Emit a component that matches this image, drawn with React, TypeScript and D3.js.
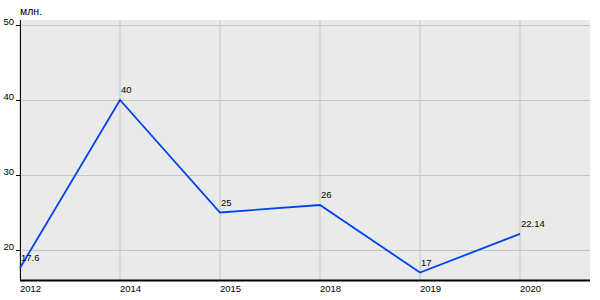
import React from "react";
import * as d3 from "d3";

const categories = ["2012", "2014", "2015", "2018", "2019", "2020"];
const values = [17.6, 40, 25, 26, 17, 22.14];
const valueLabels = ["17.6", "40", "25", "26", "17", "22.14"];
const yTicks = [20, 30, 40, 50];
const unitLabel = "млн.";

export default function App() {
  const W = 600, H = 300;
  const left = 20, right = 590, top = 20, bottom = 280;
  const x = d3.scalePoint<string>().domain(categories).range([20, 520]);
  const y = d3.scaleLinear().domain([16, 50]).range([bottom, 25]);
  const line = d3
    .line<number>()
    .x((_, i) => x(categories[i]) as number)
    .y((d) => y(d));
  const font = "Liberation Sans, Arial, sans-serif";
  return (
    <svg
      width={W}
      height={H}
      style={{ position: "absolute", left: 0, top: 0 }}
      fontFamily={font}
      fontSize={9.5}
    >
      <rect x={0} y={0} width={W} height={H} fill="#fff" />
      <rect x={left} y={top} width={right - left} height={bottom - top} fill="#eaeaea" />
      {categories.map((c) => (
        <line key={"vg" + c} x1={x(c)} x2={x(c)} y1={top} y2={bottom} stroke="#c4c4c4" strokeWidth={1} />
      ))}
      {yTicks.map((t) => (
        <line key={"hg" + t} x1={left} x2={right} y1={Math.round(y(t)) + 0.5} y2={Math.round(y(t)) + 0.5} stroke="#c4c4c4" strokeWidth={1} />
      ))}
      {yTicks.map((t) => (
        <g key={"yt" + t}>
          <line x1={16} x2={left} y1={Math.round(y(t)) + 0.5} y2={Math.round(y(t)) + 0.5} stroke="#000" />
          <text x={14} y={Math.round(y(t))} textAnchor="end" fill="#000">
            {t}
          </text>
        </g>
      ))}
      <line x1={left + 0.5} x2={left + 0.5} y1={top} y2={bottom} stroke="#000" strokeWidth={1} />
      <line x1={left} x2={right} y1={bottom + 0.5} y2={bottom + 0.5} stroke="#000" strokeWidth={2} />
      {categories.map((c) => (
        <text key={"xl" + c} x={x(c)} y={292} textAnchor="start" fill="#000">
          {c}
        </text>
      ))}
      <text x={20} y={15} fill="#000" fontSize={10.5}>{unitLabel}</text>
      <path d={line(values) || ""} fill="none" stroke="#0044ee" strokeWidth={1.8} />
      {values.map((v, i) => (
        <text key={"vl" + i} x={(x(categories[i]) as number) + 1} y={y(v) - 7} fill="#000">
          {valueLabels[i]}
        </text>
      ))}
    </svg>
  );
}
